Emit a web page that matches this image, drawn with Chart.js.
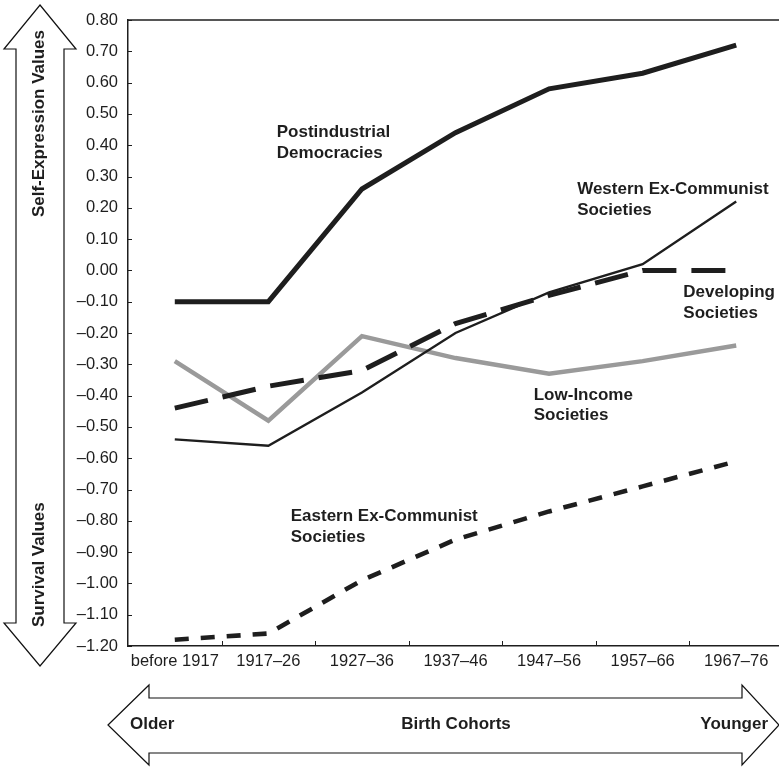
<!DOCTYPE html>
<html>
<head>
<meta charset="utf-8">
<style>
html,body{margin:0;padding:0;overflow:hidden;background:#fff;width:779px;height:769px}
canvas{display:block;position:absolute;left:0;top:0}
</style>
<script src="https://cdn.jsdelivr.net/npm/chart.js@4"></script>
</head>
<body>
<canvas id="c" width="783" height="769"></canvas>
<script>
// ---- data ----
const categories = ['before 1917', '1917–26', '1927–36', '1937–46', '1947–56', '1957–66', '1967–76'];
const postindustrial     = [-0.10, -0.10, 0.26, 0.44, 0.58, 0.63, 0.72];
const westernExCommunist = [-0.54, -0.56, -0.39, -0.20, -0.07, 0.02, 0.22];
const developing         = [-0.44, -0.37, -0.32, -0.17, -0.08, 0.00, 0.00];
const lowIncome          = [-0.29, -0.48, -0.21, -0.28, -0.33, -0.29, -0.24];
const easternExCommunist = [-1.18, -1.16, -0.99, -0.86, -0.77, -0.69, -0.61];
const yMin = -1.2, yMax = 0.8, yStep = 0.1;

// series labels placed in data units (category index, value)
const seriesLabels = [
  { lines: ['Postindustrial', 'Democracies'], at: [1.09, 0.426] },
  { lines: ['Western Ex-Communist', 'Societies'], at: [4.30, 0.244] },
  { lines: ['Developing', 'Societies'], at: [5.435, -0.085] },
  { lines: ['Low-Income', 'Societies'], at: [3.836, -0.414] },
  { lines: ['Eastern Ex-Communist', 'Societies'], at: [1.239, -0.801] }
];

const FONT = "'Liberation Sans', Arial, Helvetica, sans-serif";
const INK = '#1e1e1e';
const BOLD = 'bold 17px ' + FONT;

function fmt(v) {
  if (Math.abs(v) < 1e-9) v = 0;
  const s = Math.abs(v).toFixed(2);
  return v < 0 ? '\u2013' + s : s;
}

const deco = {
  id: 'deco',
  beforeDraw(chart) {
    const c = chart.ctx;
    c.save();
    c.fillStyle = '#fff';
    c.fillRect(0, 0, chart.width, chart.height);
    c.restore();
  },
  afterDatasetsDraw(chart) {
    const c = chart.ctx, xs = chart.scales.x, ys = chart.scales.y;
    c.save();
    c.fillStyle = INK;
    c.font = BOLD;
    c.textAlign = 'left';
    c.textBaseline = 'alphabetic';
    seriesLabels.forEach(l => {
      const px = xs.getPixelForValue(l.at[0]);
      const py = ys.getPixelForValue(l.at[1]);
      l.lines.forEach((t, i) => c.fillText(t, px, py + i * 20.5));
    });
    c.restore();
  },
  afterDraw(chart) {
    const c = chart.ctx, a = chart.chartArea, xs = chart.scales.x, ys = chart.scales.y;
    c.save();
    c.strokeStyle = INK;
    c.lineWidth = 1.5;
    c.beginPath();
    c.moveTo(a.left - 0.75, a.top); c.lineTo(a.right, a.top);
    c.stroke();
    // inward tick marks
    c.lineWidth = 1;
    c.beginPath();
    ys.ticks.forEach(t => {
      const py = Math.round(ys.getPixelForValue(t.value)) + 0.5;
      c.moveTo(a.left, py); c.lineTo(a.left + 4, py);
    });
    for (let i = 1; i < categories.length; i++) {
      const px = Math.round((xs.getPixelForValue(i - 1) + xs.getPixelForValue(i)) / 2) + 0.5;
      c.moveTo(px, a.bottom); c.lineTo(px, a.bottom - 5);
    }
    c.stroke();

    // arrows
    c.lineWidth = 1.2;
    c.strokeStyle = '#111';
    c.fillStyle = '#fff';
    const poly = pts => {
      c.beginPath();
      pts.forEach((p, i) => i ? c.lineTo(p[0], p[1]) : c.moveTo(p[0], p[1]));
      c.closePath(); c.fill(); c.stroke();
    };
    poly([[40,5],[76,49],[64,49],[64,623],[76,623],[40,666],[4,623],[16,623],[16,49],[4,49]]);
    poly([[108,725],[149,685],[149,698],[742,698],[742,685],[779,725],[742,765],[742,753],[149,753],[149,765]]);

    c.fillStyle = INK;
    c.font = BOLD;
    c.textBaseline = 'middle';
    c.save();
    c.translate(39, 30); c.rotate(-Math.PI / 2);
    c.textAlign = 'right'; c.fillText('Self-Expression Values', 0, 0);
    c.restore();
    c.save();
    c.translate(39, 627); c.rotate(-Math.PI / 2);
    c.textAlign = 'left'; c.fillText('Survival Values', 0, 0);
    c.restore();
    c.textBaseline = 'alphabetic';
    c.textAlign = 'left'; c.fillText('Older', 130, 729);
    c.textAlign = 'center'; c.fillText('Birth Cohorts', 456, 729);
    c.textAlign = 'right'; c.fillText('Younger', 768, 729);
    c.restore();
  }
};

new Chart(document.getElementById('c'), {
  type: 'line',
  data: {
    labels: categories,
    datasets: [
      { label: 'Postindustrial Democracies', data: postindustrial, borderColor: INK, borderWidth: 5 },
      { label: 'Western Ex-Communist Societies', data: westernExCommunist, borderColor: INK, borderWidth: 2.4 },
      { label: 'Developing Societies', data: developing, borderColor: INK, borderWidth: 5, borderDash: [34, 15] },
      { label: 'Eastern Ex-Communist Societies', data: easternExCommunist, borderColor: INK, borderWidth: 4.6, borderDash: [14, 12] },
      { label: 'Low-Income Societies', data: lowIncome, borderColor: '#9a9a9a', borderWidth: 4.4 }
    ]
  },
  options: {
    responsive: false,
    animation: false,
    devicePixelRatio: 1,
    layout: { padding: { top: 20, left: 0, right: 0, bottom: 93 } },
    plugins: { legend: { display: false }, tooltip: { enabled: false } },
    elements: { point: { radius: 0 }, line: { tension: 0, fill: false, borderCapStyle: 'butt', borderJoinStyle: 'miter' } },
    scales: {
      x: {
        offset: true,
        grid: { display: false, drawTicks: false },
        border: { display: true, color: INK, width: 1.5 },
        ticks: { color: INK, font: { family: FONT, size: 16.5 }, padding: 6, maxRotation: 0, autoSkip: false },
        afterFit(s) { s.height = 30; }
      },
      y: {
        min: yMin, max: yMax,
        grid: { display: false, drawTicks: false },
        border: { display: true, color: INK, width: 1.5 },
        ticks: { stepSize: yStep, color: INK, font: { family: FONT, size: 16.5 }, padding: 10, callback: v => fmt(v) },
        afterFit(s) { s.width = 128; }
      }
    }
  },
  plugins: [deco]
});
</script>
</body>
</html>
